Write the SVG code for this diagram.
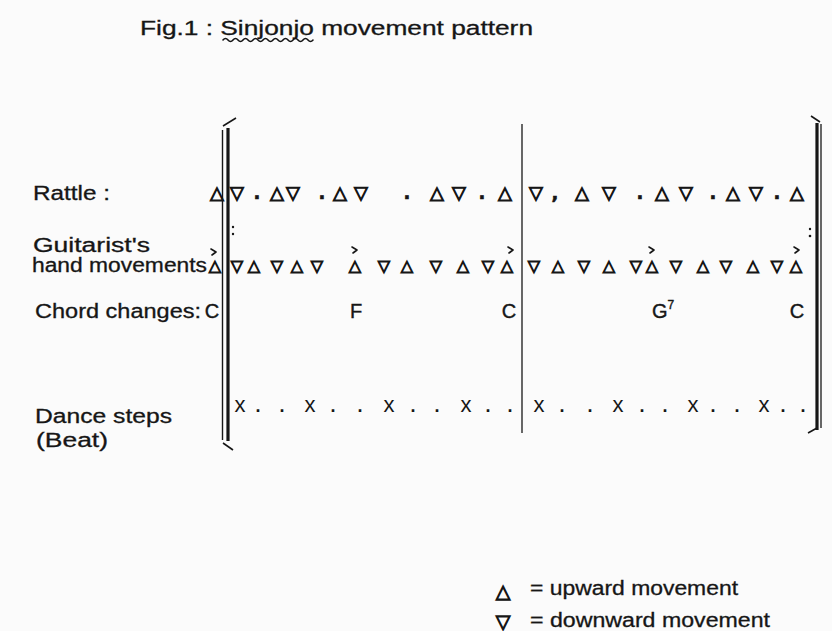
<svg xmlns="http://www.w3.org/2000/svg" width="832" height="631" viewBox="0 0 832 631">
<style>
.lbl{font-family:"Liberation Sans",Arial,sans-serif;font-size:20px;fill:#161616;stroke:#161616;stroke-width:0.3}
.sym{font-family:"DejaVu Sans",sans-serif;fill:#161616;stroke:#161616;stroke-width:1.1;text-anchor:middle}
.r{font-size:18px}
.g{font-size:16px}
.d{font-weight:bold;stroke-width:0.6}
.chord{font-family:"Liberation Sans",Arial,sans-serif;font-size:20px;fill:#161616;stroke:#161616;stroke-width:0.4;text-anchor:middle}
.dance{font-family:"Liberation Sans",Arial,sans-serif;font-size:22px;fill:#161616;text-anchor:middle}
.bar{stroke:#161616;fill:none;stroke-linecap:butt}
.acc{stroke:#161616;fill:none;stroke-width:1.6;stroke-linecap:round;stroke-linejoin:round}
</style>
<rect width="832" height="631" fill="#fbfbfb"/>

<g id="title">
  <text class="lbl" x="140" y="35" font-size="23" textLength="393" lengthAdjust="spacingAndGlyphs">Fig.1 : Sinjonjo movement pattern</text>
  <path class="acc" stroke-width="1.2" d="M223 40 q2.5 -3 5 0 t5 0 t5 0 t5 0 t5 0 t5 0 t5 0 t5 0 t5 0 t5 0 t5 0 t5 0 t5 0 t5 0 t5 0 t5 0 t5 0 t5 0"/>
</g>

<g id="bars">
  <line class="bar" x1="222.5" y1="130" x2="222.5" y2="440" stroke-width="1.4"/>
  <line class="bar" x1="228" y1="128" x2="228" y2="441" stroke-width="3.2"/>
  <line class="bar" x1="223" y1="126" x2="236" y2="118" stroke-width="1.6"/>
  <line class="bar" x1="223" y1="443" x2="233" y2="450" stroke-width="1.6"/>
  <line class="bar" x1="522" y1="124" x2="522" y2="433" stroke-width="1.3"/>
  <line class="bar" x1="817" y1="123" x2="817" y2="430" stroke-width="3.2"/>
  <line class="bar" x1="821" y1="124" x2="821" y2="428" stroke-width="1.3"/>
  <line class="bar" x1="811" y1="116" x2="820" y2="122" stroke-width="1.6"/>
  <line class="bar" x1="808" y1="433" x2="817" y2="428" stroke-width="1.6"/>
</g>

<g id="rattle">
  <text class="lbl" x="33" y="200" textLength="77" lengthAdjust="spacingAndGlyphs">Rattle :</text>
  <text class="sym r" y="199" x="217 237 257 277 293 322 340 361 407 437 459 482 505 536 555 582 609 640 662 686 713 733 756 777 797">△▽<tspan class="d">.</tspan>△▽<tspan class="d">.</tspan>△▽<tspan class="d">.</tspan>△▽<tspan class="d">.</tspan>△▽<tspan class="d">,</tspan>△▽<tspan class="d">.</tspan>△▽<tspan class="d">.</tspan>△▽<tspan class="d">.</tspan>△</text>
</g>

<g id="guitar">
  <text class="lbl" x="33" y="252" font-size="19" textLength="117" lengthAdjust="spacingAndGlyphs">Guitarist's</text>
  <text class="lbl" x="32" y="272" font-size="19" textLength="175" lengthAdjust="spacingAndGlyphs">hand movements</text>
  <text class="sym g" y="271" x="215 237 254 277 297 317 355 384 407 436 463 488 507 534 558 584 609 636 652 676 703 726 753 777 796">△▽△▽△▽△▽△▽△▽△▽△▽△▽△▽△▽△▽△</text>
  <g id="accents">
    <path class="acc" d="M211 249 l5 3 l-4 3"/>
    <path class="acc" d="M352 247 l5 3 l-4 3"/>
    <path class="acc" d="M508 247 l5 3 l-4 3"/>
    <path class="acc" d="M649 247 l5 3 l-4 3"/>
    <path class="acc" d="M794 247 l5 3 l-4 3"/>
  </g>
  <g id="repeat-dots" fill="#161616">
    <circle cx="233" cy="227" r="1.2"/><circle cx="233" cy="234" r="1.2"/>
    <circle cx="810" cy="229" r="1.2"/><circle cx="810" cy="236" r="1.3"/>
  </g>
</g>

<g id="chords">
  <text class="lbl" x="35" y="318" textLength="166" lengthAdjust="spacingAndGlyphs">Chord changes:</text>
  <text class="chord" x="212" y="318">C</text>
  <text class="chord" x="356" y="318">F</text>
  <text class="chord" x="509" y="318">C</text>
  <text class="chord" x="663" y="318">G<tspan font-size="12" dy="-9">7</tspan></text>
  <text class="chord" x="797" y="318">C</text>
</g>

<g id="dance">
  <text class="lbl" x="35" y="423" textLength="137" lengthAdjust="spacingAndGlyphs">Dance steps</text>
  <text class="lbl" x="36" y="447" textLength="72" lengthAdjust="spacingAndGlyphs">(Beat)</text>
  <text class="dance" y="412" x="240 258 282 310 333 360 389 413 437 466 488 510 539 562 590 618 642 665 693 713 737 764 783 803">x<tspan font-weight="bold" font-size="18">..</tspan>x<tspan font-weight="bold" font-size="18">..</tspan>x<tspan font-weight="bold" font-size="18">..</tspan>x<tspan font-weight="bold" font-size="18">..</tspan>x<tspan font-weight="bold" font-size="18">..</tspan>x<tspan font-weight="bold" font-size="18">..</tspan>x<tspan font-weight="bold" font-size="18">..</tspan>x<tspan font-weight="bold" font-size="18">..</tspan></text>
</g>

<g id="legend">
  <text class="sym" font-size="19" x="503" y="598">△</text>
  <text class="lbl" x="530" y="595" textLength="208" lengthAdjust="spacingAndGlyphs">=  upward movement</text>
  <text class="sym" font-size="19" x="503" y="628">▽</text>
  <text class="lbl" x="530" y="627" textLength="240" lengthAdjust="spacingAndGlyphs">=  downward movement</text>
</g>
</svg>
